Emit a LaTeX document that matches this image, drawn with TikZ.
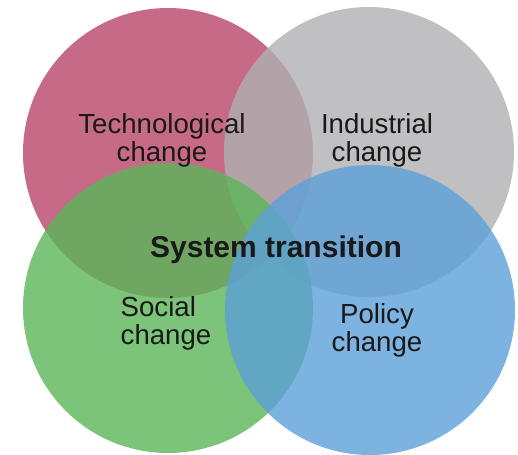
\documentclass[tikz,border=0pt]{standalone}
\usepackage{fontspec}
\setmainfont{Liberation Sans}
\usepackage{tikz}
\usetikzlibrary{positioning}
\definecolor{techpink}{RGB}{185,69,105}
\definecolor{indgray}{RGB}{176,176,179}
\definecolor{socgreen}{RGB}{90,181,89}
\definecolor{polblue}{RGB}{92,160,216}
\tikzset{
  area/.style={circle, draw=none, fill opacity=0.8, minimum size=217.5pt, inner sep=0pt},
  lbl/.style={font=\fontsize{20.7}{21}\selectfont, align=center, text=black!90},
  title/.style={font=\fontsize{22.5}{24}\selectfont\bfseries, text=black!90},
}

\begin{document}
\begin{tikzpicture}[x=0.75pt, y=0.75pt]
  \useasboundingbox (0,0) rectangle (518,454);
  % the four overlapping areas of change
  \node[area, fill=techpink] (tech) at (168,301) {};
  \node[area, fill=indgray]  (ind)  at (369,302) {};
  \node[area, fill=socgreen] (soc)  at (168,146) {};
  \node[area, fill=polblue]  (pol)  at (370,144) {};
  % labels
  \node[lbl] (techl) at (162,314) {Technological\\change};
  \node[lbl] (indl)  at (377,314) {Industrial\\change};
  \node[lbl, align=left] (socl) at (166,131) {Social\\change};
  \node[lbl] (poll)  at (377,124) {Policy\\change};
  \node[title] (sys) at (276,204) {System transition};
\end{tikzpicture}
\end{document}
